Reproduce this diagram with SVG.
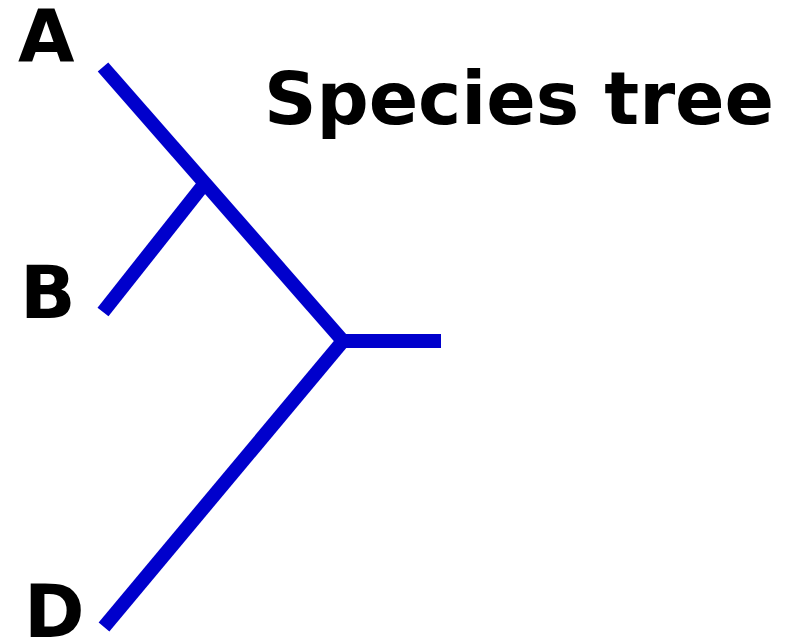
<svg xmlns="http://www.w3.org/2000/svg" width="799" height="640" viewBox="0 0 799 640">
<style>
.lbl{font-family:"DejaVu Sans",Verdana,sans-serif;font-weight:bold;font-size:73px;fill:#000}
.br{stroke:#0000cc;stroke-width:14;fill:none;stroke-linecap:butt}
</style>
<rect width="799" height="640" fill="#fff"/>
<g id="connectors">
<line class="br" x1="103" y1="67" x2="343" y2="341"/>
<line class="br" x1="103" y1="312" x2="205" y2="183"/>
<line class="br" x1="104" y1="627" x2="343" y2="341"/>
<line class="br" x1="340" y1="341" x2="441" y2="341"/>
</g>
<g id="A"><text class="lbl" x="18" y="62">A</text></g>
<g id="B"><text class="lbl" x="20" y="318">B</text></g>
<g id="D"><text class="lbl" x="24" y="637">D</text></g>
<g id="title"><text class="lbl" x="264" y="124" textLength="510" lengthAdjust="spacing">Species tree</text></g>
</svg>
